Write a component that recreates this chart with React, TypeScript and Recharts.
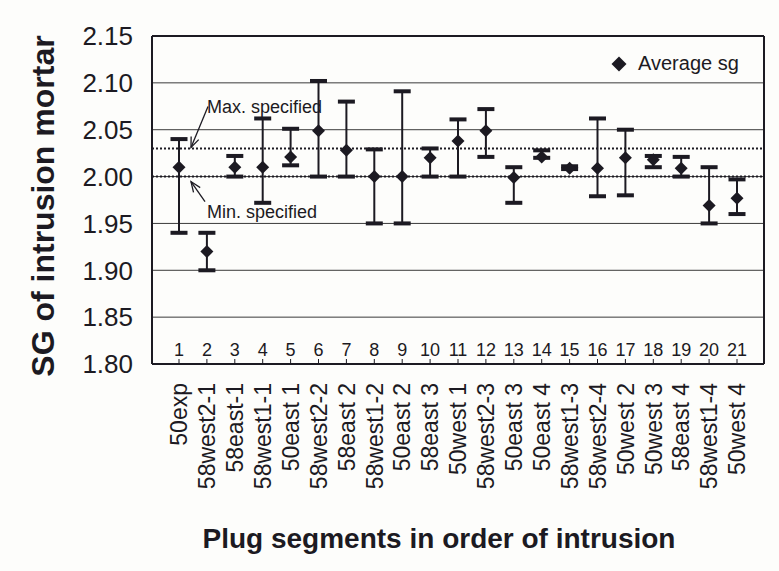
import React from 'react';
import { ComposedChart, Scatter, ErrorBar, XAxis, YAxis, CartesianGrid, ReferenceLine, Legend } from 'recharts';

const segments = ['50exp', '58west2-1', '58east-1', '58west1-1', '50east 1', '58west2-2', '58east 2', '58west1-2', '50east 2', '58east 3', '50west 1',
	'58west2-3', '50east 3', '50east 4', '58west1-3', '58west2-4', '50west 2', '50west 3', '58east 4', '58west1-4', '50west 4'];
const order = [1, 2, 3, 4, 5, 6, 7, 8, 9, 10, 11, 12, 13, 14, 15, 16, 17, 18, 19, 20, 21];
const avgSg = [2.01, 1.92, 2.01, 2.01, 2.021, 2.049, 2.028, 2.0, 2.0, 2.02, 2.038, 2.049, 1.999, 2.021, 2.009, 2.009, 2.02, 2.018, 2.009, 1.969, 1.977];
const maxSg = [2.04, 1.94, 2.022, 2.062, 2.051, 2.102, 2.08, 2.029, 2.091, 2.03, 2.061, 2.072, 2.01, 2.028, 2.011, 2.062, 2.05, 2.022, 2.021, 2.01, 1.997];
const minSg = [1.94, 1.9, 2.0, 1.972, 2.012, 2.0, 2.0, 1.95, 1.95, 2.0, 2.0, 2.021, 1.972, 2.02, 2.008, 1.979, 1.98, 2.01, 2.0, 1.95, 1.96];
const yTicks = [1.8, 1.85, 1.9, 1.95, 2.0, 2.05, 2.1, 2.15];
const maxSpec = 2.03;
const minSpec = 2.0;

const data = segments.map((seg, i) => ({
	seg,
	avg: avgSg[i],
	max: maxSg[i],
	min: minSg[i],
	err: [avgSg[i] - minSg[i], maxSg[i] - avgSg[i]],
}));

const ink = '#1c1a22';
const font = '"Liberation Sans", Arial, sans-serif';

const Diamond = (props: any) => {
	const { cx, cy } = props;
	if (cx == null || cy == null) return null;
	const r = 6.5;
	return <polygon points={`${cx},${cy - r} ${cx + r},${cy} ${cx},${cy + r} ${cx - r},${cy}`} fill={ink} />;
};

const Cap = (props: any) => {
	const { cx, cy } = props;
	if (cx == null || cy == null) return null;
	return <rect x={cx - 8.5} y={cy - 2} width={17} height={4} fill={ink} />;
};

const SegTick = (props: any) => {
	const { x, y, payload } = props;
	const idx = segments.indexOf(payload.value);
	return (
		<g>
			<line x1={x} x2={x} y1={y - 5} y2={y} stroke={ink} strokeWidth={1} />
			<text x={x} y={y - 8} textAnchor="middle" fontSize={18} fill={ink} fontFamily={font}>{order[idx]}</text>
			<text x={x} y={y + 19} transform={`rotate(-90, ${x}, ${y + 19})`} textAnchor="end" dy="0.36em"
			      fontSize={23} fill={ink} fontFamily={font}>{payload.value}</text>
		</g>
	);
};

const arrow = (x1: number, y1: number, x2: number, y2: number) => {
	const a = Math.atan2(y2 - y1, x2 - x1);
	const len = 11, s = 0.38;
	const p1 = `${x2 - len * Math.cos(a - s)},${y2 - len * Math.sin(a - s)}`;
	const p2 = `${x2 - len * Math.cos(a + s)},${y2 - len * Math.sin(a + s)}`;
	return (
		<g stroke={ink} strokeWidth={1.3} fill="none">
			<line x1={x1} y1={y1} x2={x2} y2={y2} />
			<polyline points={`${p1} ${x2},${y2} ${p2}`} />
		</g>
	);
};

const SpecNote = (props: any) => {
	const { viewBox, kind } = props;
	if (!viewBox) return null;
	const { x, y } = viewBox;
	const isMax = kind === 'max';
	return (
		<g>
			<text x={x + 55} y={isMax ? y - 35 : y + 41} fontSize={18} fill={ink} fontFamily={font}>
				{isMax ? 'Max. specified' : 'Min. specified'}
			</text>
			{isMax ? arrow(x + 56, y - 42, x + 39, y - 1) : arrow(x + 53, y + 25, x + 39, y + 5)}
		</g>
	);
};

const YTitle = (props: any) => {
	const { viewBox } = props;
	const cx = viewBox.x + 54;
	const cy = viewBox.y + viewBox.height / 2 + 6;
	return (
		<text x={cx} y={cy} transform={`rotate(-90, ${cx}, ${cy})`} textAnchor="middle" fontSize={32}
		      fontWeight="bold" fill={ink} fontFamily={font}>SG of intrusion mortar</text>
	);
};

const XTitle = (props: any) => {
	const { viewBox } = props;
	return (
		<text x={viewBox.x + viewBox.width / 2 - 19} y={viewBox.y + 184} textAnchor="middle" fontSize={28}
		      fontWeight="bold" fill={ink} fontFamily={font}>Plug segments in order of intrusion</text>
	);
};

const LegendBox = (props: any) => (
	<div style={{ display: 'flex', alignItems: 'center', fontFamily: font, fontSize: 20, color: ink, whiteSpace: 'nowrap' }}>
		{(props.payload || []).filter((p: any) => p.type !== 'none' && p.value === 'Average sg').map((p: any) => (
			<React.Fragment key={p.value}>
				<svg width={16} height={16}><polygon points="8,0.5 15.5,8 8,15.5 0.5,8" fill={ink} /></svg>
				<span style={{ marginLeft: 11 }}>{p.value}</span>
			</React.Fragment>
		))}
	</div>
);

export default function App() {
	return (
		<div style={{ position: 'absolute', left: 0, top: 0, width: 779, height: 571, background: '#fdfdfb' }}>
			<ComposedChart width={779} height={571} data={data} margin={{ top: 36, right: 15, bottom: 57, left: 0 }}>
				<CartesianGrid vertical={false} stroke="#3a3a3a" strokeWidth={1} />
				<CartesianGrid stroke={ink} strokeWidth={2}
				               verticalCoordinatesGenerator={({ offset }: any) => [offset.left, offset.left + offset.width]}
				               horizontalCoordinatesGenerator={({ offset }: any) => [offset.top, offset.top + offset.height]} />
				<XAxis dataKey="seg" height={150} interval={0} tickLine={false} axisLine={false} tickSize={0} tickMargin={0}
				       padding={{ left: 27, right: 27 }} tick={<SegTick />} label={<XTitle />} />
				<YAxis type="number" domain={[1.8, 2.15]} ticks={yTicks} width={152} tickSize={0} tickMargin={19}
				       axisLine={false} tickLine={false} tickFormatter={(v: number) => v.toFixed(2)}
				       tick={{ fontSize: 26, fill: ink, fontFamily: font }} label={<YTitle />} />
				<ReferenceLine y={maxSpec} stroke={ink} strokeWidth={2} strokeDasharray="2 2" label={<SpecNote kind="max" />} />
				<ReferenceLine y={minSpec} stroke={ink} strokeWidth={2} strokeDasharray="2 2" label={<SpecNote kind="min" />} />
				<Scatter dataKey="max" name="max" shape={<Cap />} legendType="none" isAnimationActive={false} />
				<Scatter dataKey="min" name="min" shape={<Cap />} legendType="none" isAnimationActive={false} />
				<Scatter dataKey="avg" name="Average sg" fill={ink} shape={<Diamond />} legendType="diamond" isAnimationActive={false}>
					<ErrorBar dataKey="err" direction="y" width={0} stroke={ink} strokeWidth={2} isAnimationActive={false} />
				</Scatter>
				<Legend verticalAlign="middle" align="center" layout="horizontal" content={<LegendBox />}
				        wrapperStyle={{ top: 52, left: 611, width: 'auto', height: 'auto' }} />
			</ComposedChart>
		</div>
	);
}
